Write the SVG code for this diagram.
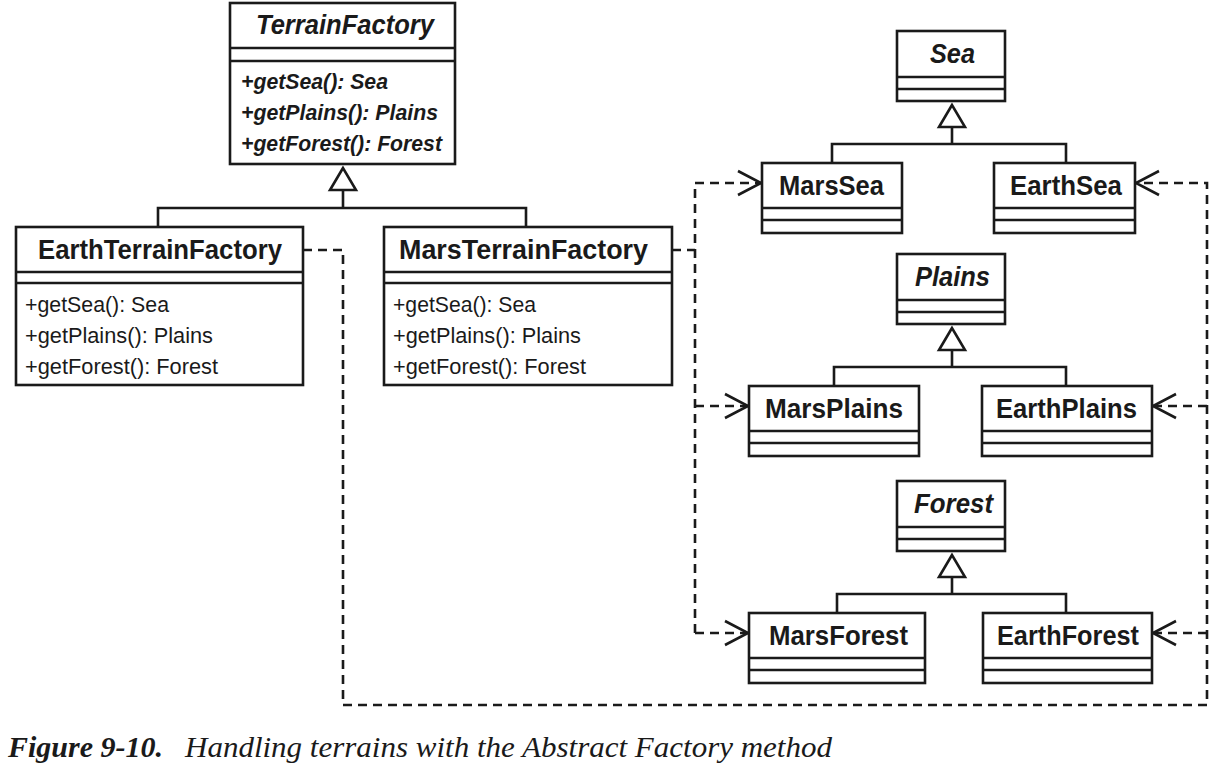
<svg xmlns="http://www.w3.org/2000/svg" width="1220" height="776" viewBox="0 0 1220 776">
<style>
.box{fill:#fff;stroke:#1a1a1a;stroke-width:2.6}
.sep{stroke:#1a1a1a;stroke-width:2.6;fill:none}
.gen{stroke:#1a1a1a;stroke-width:2.6;fill:none}
.tri{fill:#fff;stroke:#1a1a1a;stroke-width:2.6}
.dep{stroke:#1a1a1a;stroke-width:2.6;fill:none;stroke-dasharray:9 6}
.t{font-family:"Liberation Sans",Arial,sans-serif;font-weight:bold;font-size:28px;fill:#1a1a1a}
.ti{font-family:"Liberation Sans",Arial,sans-serif;font-weight:bold;font-style:italic;font-size:28px;fill:#1a1a1a}
.m{font-family:"Liberation Sans",Arial,sans-serif;font-size:22px;fill:#1a1a1a}
.mi{font-family:"Liberation Sans",Arial,sans-serif;font-weight:bold;font-style:italic;font-size:22px;fill:#1a1a1a}
.cap{font-family:"Liberation Serif","Times New Roman",serif;font-style:italic;font-size:29px;fill:#1a1a1a}
</style>
<defs>
<marker id="open" markerUnits="userSpaceOnUse" markerWidth="28" markerHeight="30" viewBox="0 0 28 30" refX="25" refY="15" orient="auto">
<path d="M2,3 L25,15 L2,27" fill="none" stroke="#1a1a1a" stroke-width="2.6"/>
</marker>
</defs>
<rect width="1220" height="776" fill="#fff"/>

<g id="connectors">
<path class="gen" d="M343,190 V208 M158,227 V208 H526 V227"/>
<polygon class="tri" points="343,168 330,190 356,190"/>
<path class="gen" d="M952,127 V144 M832,163 V144 H1066 V163"/>
<polygon class="tri" points="952,105 939,127 965,127"/>
<path class="gen" d="M952,350 V367 M834,386 V367 H1066 V386"/>
<polygon class="tri" points="952,328 939,350 965,350"/>
<path class="gen" d="M952,577 V594 M837,613 V594 H1066 V613"/>
<polygon class="tri" points="952,555 939,577 965,577"/>
<path class="dep" d="M672,250 H695"/>
<path class="dep" d="M695,633 V183 H761" marker-end="url(#open)"/>
<path class="dep" d="M695,406 H748" marker-end="url(#open)"/>
<path class="dep" d="M695,633 H748" marker-end="url(#open)"/>
<path class="dep" d="M303,250 H343 V705 H1207 V183 H1136" marker-end="url(#open)"/>
<path class="dep" d="M1207,406 H1153" marker-end="url(#open)"/>
<path class="dep" d="M1207,633 H1153" marker-end="url(#open)"/>
</g>

<g id="TerrainFactory">
<rect class="box" x="230" y="3" width="225" height="161"/>
<path class="sep" d="M230,48 H455 M230,61 H455"/>
<text class="ti" x="256" y="34" textLength="178" lengthAdjust="spacingAndGlyphs">TerrainFactory</text>
<text class="mi" x="241" y="89" textLength="147" lengthAdjust="spacingAndGlyphs">+getSea(): Sea</text>
<text class="mi" x="241" y="120" textLength="197" lengthAdjust="spacingAndGlyphs">+getPlains(): Plains</text>
<text class="mi" x="241" y="151" textLength="201" lengthAdjust="spacingAndGlyphs">+getForest(): Forest</text>
</g>

<g id="EarthTerrainFactory">
<rect class="box" x="16" y="227" width="287" height="158"/>
<path class="sep" d="M16,272 H303 M16,283 H303"/>
<text class="t" x="38" y="259" textLength="244" lengthAdjust="spacingAndGlyphs">EarthTerrainFactory</text>
<text class="m" x="25" y="312" textLength="144" lengthAdjust="spacingAndGlyphs">+getSea(): Sea</text>
<text class="m" x="25" y="343" textLength="188" lengthAdjust="spacingAndGlyphs">+getPlains(): Plains</text>
<text class="m" x="25" y="374" textLength="193" lengthAdjust="spacingAndGlyphs">+getForest(): Forest</text>
</g>

<g id="MarsTerrainFactory">
<rect class="box" x="384" y="227" width="288" height="158"/>
<path class="sep" d="M384,272 H672 M384,283 H672"/>
<text class="t" x="399" y="259" textLength="249" lengthAdjust="spacingAndGlyphs">MarsTerrainFactory</text>
<text class="m" x="393" y="312" textLength="143" lengthAdjust="spacingAndGlyphs">+getSea(): Sea</text>
<text class="m" x="393" y="343" textLength="188" lengthAdjust="spacingAndGlyphs">+getPlains(): Plains</text>
<text class="m" x="393" y="374" textLength="193" lengthAdjust="spacingAndGlyphs">+getForest(): Forest</text>
</g>

<g id="Sea">
<rect class="box" x="897" y="31" width="108" height="70"/>
<path class="sep" d="M897,77 H1005 M897,89 H1005"/>
<text class="ti" x="930" y="63" textLength="45" lengthAdjust="spacingAndGlyphs">Sea</text>
</g>
<g id="MarsSea">
<rect class="box" x="762" y="163" width="140" height="70"/>
<path class="sep" d="M762,208 H902 M762,220 H902"/>
<text class="t" x="779" y="195" textLength="105" lengthAdjust="spacingAndGlyphs">MarsSea</text>
</g>
<g id="EarthSea">
<rect class="box" x="994" y="163" width="141" height="70"/>
<path class="sep" d="M994,208 H1135 M994,220 H1135"/>
<text class="t" x="1010" y="195" textLength="112" lengthAdjust="spacingAndGlyphs">EarthSea</text>
</g>

<g id="Plains">
<rect class="box" x="897" y="254" width="108" height="70"/>
<path class="sep" d="M897,300 H1005 M897,312 H1005"/>
<text class="ti" x="915" y="286" textLength="75" lengthAdjust="spacingAndGlyphs">Plains</text>
</g>
<g id="MarsPlains">
<rect class="box" x="749" y="386" width="170" height="70"/>
<path class="sep" d="M749,431 H919 M749,443 H919"/>
<text class="t" x="765" y="418" textLength="138" lengthAdjust="spacingAndGlyphs">MarsPlains</text>
</g>
<g id="EarthPlains">
<rect class="box" x="982" y="386" width="170" height="70"/>
<path class="sep" d="M982,431 H1152 M982,443 H1152"/>
<text class="t" x="996" y="418" textLength="141" lengthAdjust="spacingAndGlyphs">EarthPlains</text>
</g>

<g id="Forest">
<rect class="box" x="897" y="481" width="108" height="70"/>
<path class="sep" d="M897,527 H1005 M897,539 H1005"/>
<text class="ti" x="914" y="513" textLength="79" lengthAdjust="spacingAndGlyphs">Forest</text>
</g>
<g id="MarsForest">
<rect class="box" x="749" y="613" width="176" height="70"/>
<path class="sep" d="M749,658 H925 M749,670 H925"/>
<text class="t" x="769" y="645" textLength="139" lengthAdjust="spacingAndGlyphs">MarsForest</text>
</g>
<g id="EarthForest">
<rect class="box" x="983" y="613" width="169" height="70"/>
<path class="sep" d="M983,658 H1152 M983,670 H1152"/>
<text class="t" x="997" y="645" textLength="142" lengthAdjust="spacingAndGlyphs">EarthForest</text>
</g>

<g id="caption">
<text class="cap" x="8" y="757" font-weight="bold" textLength="155" lengthAdjust="spacingAndGlyphs">Figure 9-10.</text>
<text class="cap" x="185" y="757" textLength="647" lengthAdjust="spacingAndGlyphs">Handling terrains with the Abstract Factory method</text>
</g>
</svg>
